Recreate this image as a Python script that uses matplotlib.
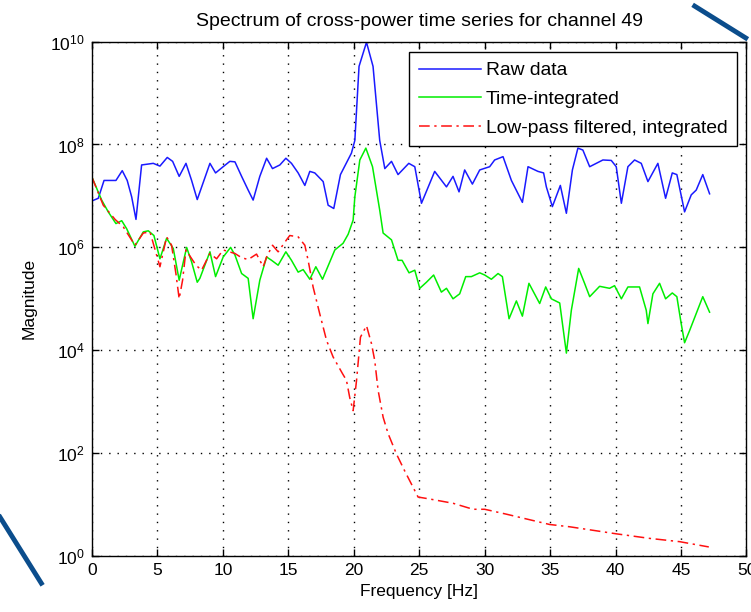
import matplotlib
matplotlib.use('Agg')
import matplotlib.pyplot as plt
from matplotlib.lines import Line2D
import numpy as np

# spectrum values (Hz, magnitude)
raw_f = [0.0, 0.48, 0.92, 1.83, 2.31, 2.69, 3.03, 3.36, 3.79, 4.68, 5.19, 5.75, 6.16, 6.66, 7.18,
         7.61, 8.04, 9.01, 9.44, 10.02, 10.53, 10.92, 11.43, 11.93, 12.31, 12.82, 13.34, 13.79,
         14.35, 14.81, 15.24, 15.75, 16.26, 16.64, 17.02, 17.66, 18.04, 18.47, 18.98, 19.82,
         20.08, 20.40, 20.97, 21.47, 21.98, 22.37, 22.88, 23.38, 24.20, 24.66, 25.17, 26.18,
         27.08, 27.58, 28.04, 28.47, 29.06, 29.62, 30.38, 30.76, 31.40, 32.04, 32.88, 33.31,
         34.07, 34.50, 34.71, 35.17, 35.78, 36.24, 36.70, 37.12, 37.50, 38.02, 39.03, 39.67,
         40.05, 40.44, 40.94, 41.45, 41.96, 42.47, 43.23, 43.82, 44.33, 44.68, 45.27, 45.78,
         46.16, 46.66, 47.18]
raw_y = [8e6, 9e6, 2.0e7, 2.0e7, 3.1e7, 2.0e7, 9.6e6, 3.5e6, 4.0e7, 4.3e7, 3.8e7, 5.6e7, 4.7e7,
         2.4e7, 4.3e7, 2.0e7, 8.5e6, 4.3e7, 2.8e7, 3.7e7, 4.7e7, 4.6e7, 2.4e7, 1.3e7, 8.3e6,
         2.4e7, 5.4e7, 3.4e7, 4.0e7, 5.4e7, 4.3e7, 2.8e7, 1.6e7, 3.0e7, 2.8e7, 1.9e7, 6.6e6,
         5.7e6, 2.6e7, 6.8e7, 1.2e8, 3.3e9, 9.7e9, 3.3e9, 1.2e8, 3.4e7, 4.7e7, 2.6e7, 4.3e7,
         3.7e7, 7.2e6, 3.0e7, 1.5e7, 2.4e7, 1.2e7, 3.2e7, 1.7e7, 3.2e7, 3.7e7, 5.0e7, 5.8e7,
         2.0e7, 7.5e6, 3.7e7, 3.0e7, 2.8e7, 1.5e7, 6.2e6, 1.6e7, 4.6e6, 3.2e7, 8.5e7, 7.8e7,
         3.7e7, 5.0e7, 4.9e7, 3.7e7, 7.2e6, 3.7e7, 5.0e7, 4.3e7, 1.9e7, 4.3e7, 9.0e6, 2.8e7,
         2.6e7, 4.9e6, 1.05e7, 1.3e7, 2.6e7, 1.1e7]

int_f = [0.0, 0.74, 1.24, 1.83, 2.27, 2.65, 3.28, 3.92, 4.30, 4.73, 5.19, 5.70, 6.21, 6.66, 7.23,
         7.61, 8.04, 8.24, 9.01, 9.44, 10.02, 10.59, 10.92, 11.43, 11.93, 12.31, 12.82, 13.34,
         13.72, 14.22, 14.81, 15.24, 15.75, 16.13, 16.64, 17.10, 17.61, 18.55, 19.18, 19.57,
         19.95, 20.08, 20.46, 20.92, 21.43, 21.98, 22.24, 22.88, 23.38, 23.69, 24.22, 24.66,
         25.04, 25.55, 26.10, 26.69, 27.08, 27.58, 28.09, 28.55, 28.98, 29.62, 30.00, 30.51,
         31.02, 31.35, 31.86, 32.42, 32.88, 33.38, 34.20, 34.66, 35.09, 35.73, 36.24, 36.62,
         37.18, 37.63, 38.02, 38.78, 39.54, 39.92, 40.44, 40.94, 41.83, 42.34, 42.47, 42.85,
         43.36, 43.82, 44.33, 44.68, 45.01, 45.27, 45.65, 46.11, 46.66, 47.18]
int_y = [2.3e7, 8.3e6, 4.9e6, 2.9e6, 3.3e6, 2.3e6, 1.05e6, 2.0e6, 2.1e6, 1.7e6, 6.0e5, 1.5e6,
         9.5e5, 2.3e5, 1.0e6, 5.2e5, 2.1e5, 2.5e5, 8.2e5, 2.7e5, 6.5e5, 1.0e6, 7.1e5, 3.1e5,
         2.5e5, 4.1e4, 2.3e5, 6.5e5, 5.6e5, 4.5e5, 8.2e5, 5.6e5, 3.3e5, 3.7e5, 2.4e5, 4.2e5,
         2.4e5, 8.9e5, 1.2e6, 1.8e6, 3.4e6, 9.6e6, 5.0e7, 8.5e7, 3.7e7, 5.3e6, 1.9e6, 1.4e6,
         5.6e5, 5.6e5, 3.2e5, 3.6e5, 1.6e5, 2.1e5, 2.9e5, 1.35e5, 1.6e5, 1.0e5, 1.25e5, 2.7e5,
         2.7e5, 3.2e5, 2.9e5, 2.4e5, 3.1e5, 2.7e5, 4.1e4, 9.1e4, 4.6e4, 2.0e5, 8.1e4, 1.7e5,
         1.0e5, 8.3e4, 8.8e3, 6.0e4, 3.9e5, 2.0e5, 1.1e5, 1.75e5, 1.6e5, 1.8e5, 1.0e5, 1.7e5,
         1.7e5, 6.0e4, 3.3e4, 1.25e5, 2.0e5, 1.0e5, 1.3e5, 1.1e5, 3.3e4, 1.4e4, 2.4e4, 4.8e4,
         1.1e5, 5.5e4]

lp_f = [0.0, 0.86, 1.76, 2.39, 3.28, 3.92, 4.43, 5.19, 5.70, 6.08, 6.41, 6.66, 6.92, 7.18, 7.94,
        8.37, 9.01, 9.52, 10.02, 10.92, 11.43, 11.93, 12.57, 13.08, 13.34, 13.79, 14.22, 14.86,
        15.11, 15.75, 16.26, 16.51, 16.77, 16.89, 17.40, 17.92, 18.42, 19.14, 19.44, 19.69,
        19.95, 20.21, 20.51, 20.97, 21.35, 21.60, 21.86, 22.24, 22.62, 23.26, 23.89, 24.91,
        25.67, 27.58, 29.11, 30.00, 31.66, 34.96, 36.49, 40.05, 42.60, 44.89, 47.12]
lp_y = [2.3e7, 6.6e6, 3.5e6, 2.5e6, 1.1e6, 1.9e6, 2.0e6, 4.2e5, 1.6e6, 1.1e6, 3.1e5, 1.0e5,
        2.3e5, 8.9e5, 4.5e5, 3.6e5, 7.6e5, 6.0e5, 8.9e5, 7.6e5, 6.3e5, 5.8e5, 7.4e5, 4.2e5,
        6.5e5, 1.1e6, 8.2e5, 1.4e6, 1.7e6, 1.6e6, 1.1e6, 5.6e5, 2.5e5, 1.7e5, 5.1e4, 1.55e4,
        7.4e3, 3.5e3, 2.6e3, 1.2e3, 6.7e2, 2.6e3, 1.8e4, 3.0e4, 1.35e4, 6.3e3, 1.65e3, 5.0e2,
        2.4e2, 96, 45, 14, 13, 10.6, 8.1, 8.1, 6.5, 4.1, 3.7, 2.7, 2.2, 1.9, 1.5]

labels = ['Raw data', 'Time-integrated', 'Low-pass filtered, integrated']
xticks = [0, 5, 10, 15, 20, 25, 30, 35, 40, 45, 50]
yticks = [1e0, 1e2, 1e4, 1e6, 1e8, 1e10]

plt.rcParams['font.family'] = ['Liberation Sans', 'DejaVu Sans']
plt.rcParams['mathtext.fontset'] = 'custom'
plt.rcParams['mathtext.rm'] = 'Liberation Sans'
plt.rcParams['mathtext.it'] = 'Liberation Sans'
plt.rcParams['xtick.direction'] = 'in'
plt.rcParams['ytick.direction'] = 'in'

fig = plt.figure(figsize=(7.51, 6.12), dpi=100)
ax = fig.add_axes([0.1225, 0.0915, 0.8715, 0.8405])

ax.semilogy(raw_f, raw_y, color='#1a1aff', lw=1.1, label=labels[0])
ax.semilogy(int_f, int_y, color='#00ee00', lw=1.1, label=labels[1])
ax.semilogy(lp_f, lp_y, color='#ff1010', lw=1.1, ls=(0, (7, 3, 1.5, 3)), label=labels[2])

ax.set_xlim(0, 50)
ax.set_ylim(1e0, 1e10)
ax.set_xticks(xticks)
ax.set_xticklabels([str(t) for t in xticks])
ax.set_yticks(yticks)
ax.set_yticklabels([r'$10^{%d}$' % int(np.log10(t)) for t in yticks])
ax.yaxis.set_minor_locator(matplotlib.ticker.NullLocator())
ax.tick_params(which='major', top=True, right=True, length=5, width=1, labelsize=12.5, pad=5)
ax.grid(True, color='black', ls=(0, (1, 5)), lw=1)
for s in ax.spines.values():
    s.set_linewidth(1)

ax.set_title('Spectrum of cross-power time series for channel 49', fontsize=14, pad=11)
ax.set_xlabel('Frequency [Hz]', fontsize=12.5, labelpad=4)
ax.set_ylabel('Magnitude', fontsize=12.5, labelpad=10)

leg = ax.legend(loc='upper right', bbox_to_anchor=(0.9855, 0.9796), borderaxespad=0,
                fontsize=13.9, handlelength=3.2, handletextpad=0.26, labelspacing=0.58,
                fancybox=False, framealpha=1, edgecolor='black', borderpad=0.5)
leg.get_frame().set_linewidth(1)

# dark blue strokes over the screenshot corners
fig.add_artist(Line2D([0.925, 0.993], [0.99, 0.938], color='#0b4d8c', lw=3.5))
fig.add_artist(Line2D([0.0, 0.055], [0.155, 0.047], color='#0b4d8c', lw=3.5))

fig.savefig('out.png', dpi=100)
